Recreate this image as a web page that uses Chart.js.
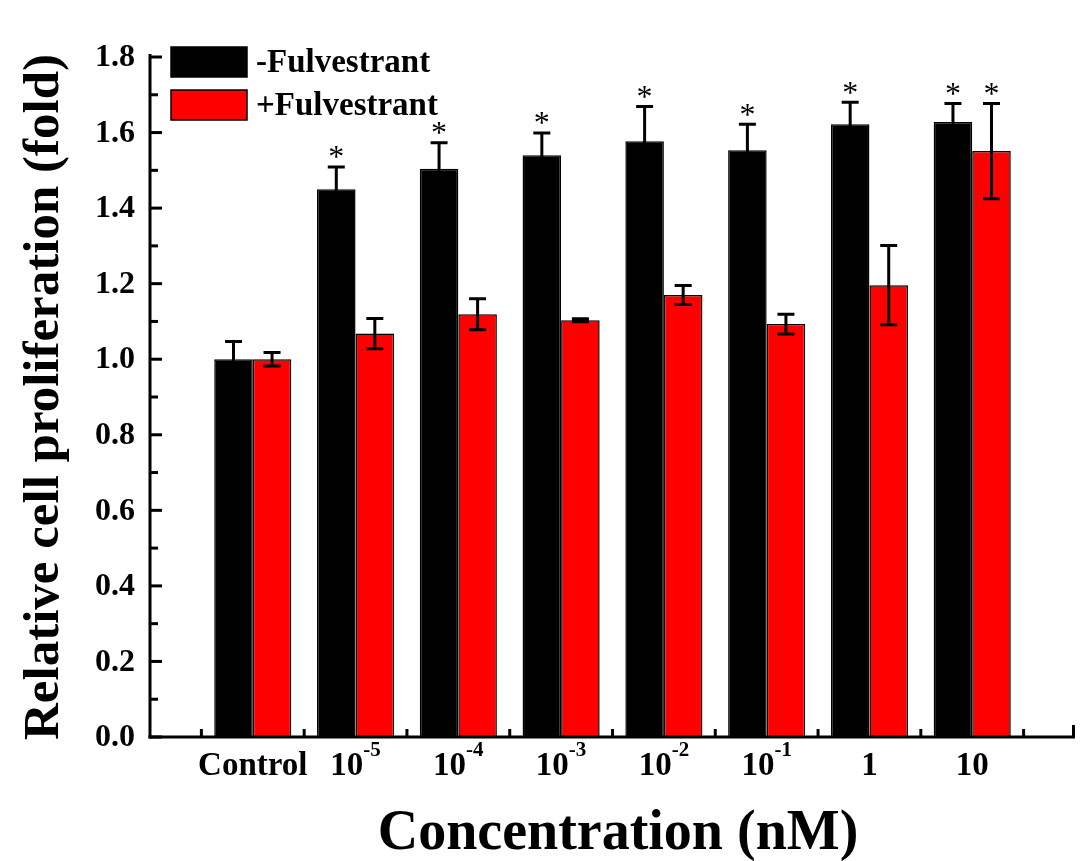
<!DOCTYPE html>
<html>
<head>
<meta charset="utf-8">
<script src="https://cdn.jsdelivr.net/npm/chart.js@4.4.1/dist/chart.umd.min.js"></script>
<style>
  body { margin: 0; background: #fff; }
  #wrap { width: 1086px; height: 861px; }
</style>
</head>
<body>
<div id="wrap"><canvas id="myChart" width="1086" height="861"></canvas></div>
<script>
const categories = ["Control", "10^-5", "10^-4", "10^-3", "10^-2", "10^-1", "1", "10"];
const minusValues = [1.0, 1.45, 1.504, 1.54, 1.577, 1.553, 1.622, 1.628];
const minusErrors = [0.047, 0.059, 0.069, 0.059, 0.092, 0.069, 0.058, 0.049];
const plusValues = [1.0, 1.068, 1.119, 1.103, 1.17, 1.093, 1.196, 1.551];
const plusErrors = [0.018, 0.04, 0.041, 0.004, 0.025, 0.026, 0.105, 0.126];
const minusSignificant = [false, true, true, true, true, true, true, true];
const plusSignificant = [false, false, false, false, false, false, false, true];
const yTicks = [0.0, 0.2, 0.4, 0.6, 0.8, 1.0, 1.2, 1.4, 1.6, 1.8];
const seriesNames = ["-Fulvestrant", "+Fulvestrant"];

const FONT = "'Liberation Serif', 'Times New Roman', serif";

document.addEventListener("DOMContentLoaded", function () {
  iniciarGrafica();
});

// empty slot at each end so the axis runs one category past the bars
function padded(arr) {
  return [null].concat(arr, [null]);
}

const axesPlugin = {
  id: "axesPlugin",
  afterDatasetsDraw(chart) {
    const ctx = chart.ctx;
    const x = chart.scales.x;
    const y = chart.scales.y;
    const area = chart.chartArea;
    ctx.save();
    ctx.strokeStyle = "#000";
    ctx.fillStyle = "#000";
    ctx.lineWidth = 3;
    ctx.lineCap = "butt";

    // error bars and significance stars
    const errs = [minusErrors, plusErrors];
    const sig = [minusSignificant, plusSignificant];
    chart.data.datasets.forEach(function (ds, di) {
      const meta = chart.getDatasetMeta(di);
      meta.data.forEach(function (bar, idx) {
        const k = idx - 1;
        if (k < 0 || k >= categories.length) return;
        const v = ds.data[idx];
        const e = errs[di][k];
        const top = y.getPixelForValue(v + e);
        const bot = y.getPixelForValue(v - e);
        const cap = 8.5;
        ctx.beginPath();
        ctx.moveTo(bar.x, top);
        ctx.lineTo(bar.x, bot);
        ctx.moveTo(bar.x - cap, top);
        ctx.lineTo(bar.x + cap, top);
        ctx.moveTo(bar.x - cap, bot);
        ctx.lineTo(bar.x + cap, bot);
        ctx.stroke();
        if (sig[di][k]) {
          ctx.font = "32px " + FONT;
          ctx.textAlign = "center";
          ctx.textBaseline = "middle";
          ctx.fillText("*", bar.x, top - 8);
        }
      });
    });

    // y axis with inner ticks
    ctx.beginPath();
    ctx.moveTo(area.left, area.bottom + 1.5);
    ctx.lineTo(area.left, area.top - 3);
    ctx.stroke();
    ctx.font = "bold 32px " + FONT;
    ctx.textAlign = "right";
    ctx.textBaseline = "middle";
    yTicks.forEach(function (t, i) {
      const py = y.getPixelForValue(t);
      ctx.beginPath();
      ctx.moveTo(area.left, py);
      ctx.lineTo(area.left + 12, py);
      ctx.stroke();
      if (i < yTicks.length - 1) {
        const pm = y.getPixelForValue(t + 0.1);
        ctx.beginPath();
        ctx.moveTo(area.left, pm);
        ctx.lineTo(area.left + 8, pm);
        ctx.stroke();
      }
      ctx.fillText(t.toFixed(1), area.left - 15, py + 1);
    });

    // x axis with ticks between groups
    ctx.beginPath();
    ctx.moveTo(area.left - 1.5, area.bottom);
    ctx.lineTo(area.right, area.bottom);
    ctx.stroke();
    const n = categories.length + 2;
    for (let i = 0; i < n - 1; i++) {
      const px = (x.getPixelForValue(i) + x.getPixelForValue(i + 1)) / 2;
      ctx.beginPath();
      ctx.moveTo(px, area.bottom);
      ctx.lineTo(px, area.bottom - 8);
      ctx.stroke();
    }
    ctx.beginPath();
    ctx.moveTo(area.right - 1.5, area.bottom);
    ctx.lineTo(area.right - 1.5, area.bottom - 12);
    ctx.stroke();

    // category labels with exponents
    ctx.textBaseline = "alphabetic";
    ctx.textAlign = "left";
    categories.forEach(function (lab, k) {
      const parts = lab.split("^");
      ctx.font = "bold 33px " + FONT;
      const w1 = ctx.measureText(parts[0]).width;
      let w2 = 0;
      if (parts[1]) {
        ctx.font = "bold 21px " + FONT;
        w2 = ctx.measureText(parts[1]).width;
      }
      const cx = x.getPixelForValue(k + 1);
      const sx = cx - (w1 + w2) / 2;
      ctx.font = "bold 33px " + FONT;
      ctx.fillText(parts[0], sx, area.bottom + 38);
      if (parts[1]) {
        ctx.font = "bold 21px " + FONT;
        ctx.fillText(parts[1], sx + w1, area.bottom + 19);
      }
    });

    // axis titles
    ctx.textAlign = "center";
    ctx.font = "bold 56px " + FONT;
    ctx.fillText("Concentration (nM)", 618, 849);
    ctx.save();
    ctx.translate(58, (area.top + area.bottom) / 2);
    ctx.rotate(-Math.PI / 2);
    ctx.font = "bold 51px " + FONT;
    ctx.fillText("Relative cell proliferation (fold)", 0, 0);
    ctx.restore();

    // legend
    const colors = ["#000000", "#ff0000"];
    ctx.font = "bold 33px " + FONT;
    ctx.textAlign = "left";
    ctx.textBaseline = "middle";
    seriesNames.forEach(function (name, i) {
      const ly = 47 + i * 43;
      ctx.fillStyle = colors[i];
      ctx.fillRect(171, ly, 76, 30);
      ctx.lineWidth = 1.5;
      ctx.strokeStyle = "#000";
      ctx.strokeRect(171, ly, 76, 30);
      ctx.fillStyle = "#000";
      ctx.fillText(name, 256, ly + 16);
    });
    ctx.restore();
  },
};

function iniciarGrafica() {
  var ctx = document.getElementById("myChart").getContext("2d");
  var myChart = new Chart(ctx, {
    type: "bar",
    data: {
      labels: padded(categories),
      datasets: [
        {
          label: seriesNames[0],
          data: padded(minusValues),
          backgroundColor: "#000000",
          borderColor: "#000000",
          borderWidth: 1.5,
        },
        {
          label: seriesNames[1],
          data: padded(plusValues),
          backgroundColor: "#ff0000",
          borderColor: "#000000",
          borderWidth: 1.5,
        },
      ],
    },
    options: {
      responsive: false,
      animation: false,
      layout: {
        padding: { left: 150, right: 11, top: 57, bottom: 124 },
      },
      datasets: {
        bar: { categoryPercentage: 0.75, barPercentage: 1.0 },
      },
      scales: {
        x: { display: false, offset: false },
        y: { display: false, min: 0, max: 1.8 },
      },
      plugins: {
        legend: { display: false },
        title: { display: false },
        tooltip: { enabled: false },
      },
    },
    plugins: [axesPlugin],
  });
}
</script>
</body>
</html>
